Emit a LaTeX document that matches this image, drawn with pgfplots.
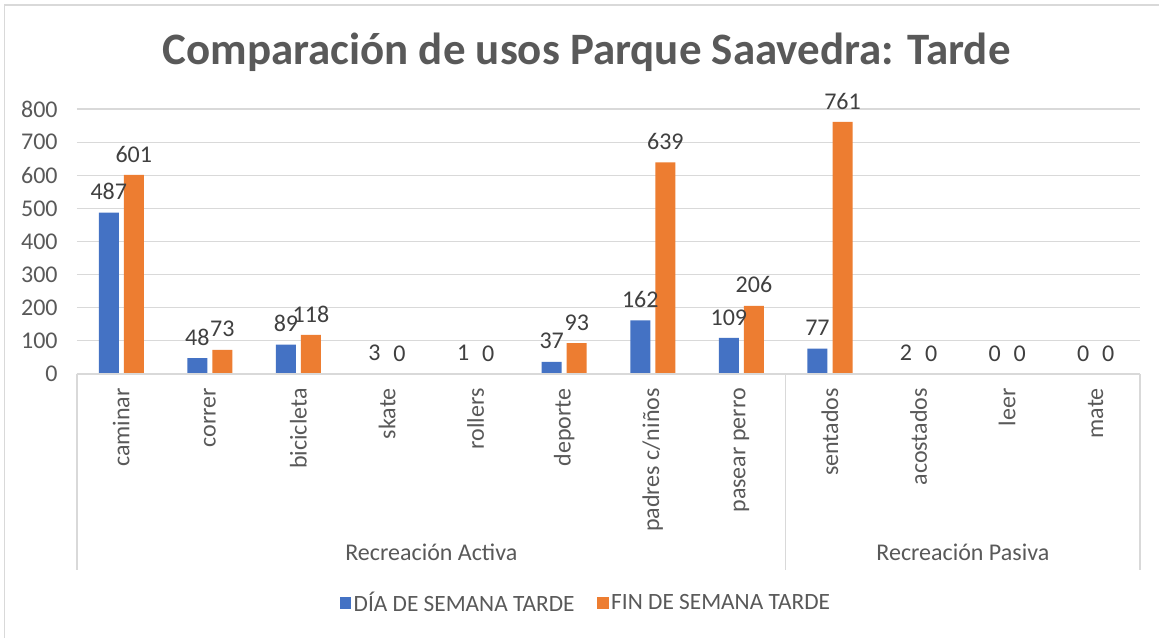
\documentclass[border=0pt]{standalone}
\usepackage{fontspec}
\setmainfont{Carlito}
\usepackage{pgfplots}
\pgfplotsset{compat=1.18}
\definecolor{txtgray}{HTML}{595959}
\definecolor{lblgray}{HTML}{404040}
\definecolor{gridgray}{HTML}{D9D9D9}
\definecolor{xlblue}{HTML}{4472C4}
\definecolor{xlorange}{HTML}{ED7D31}
\begin{document}
\begin{tikzpicture}
\useasboundingbox (0,0) rectangle (869.25pt,-478.5pt);
\fill[white] (0,0) rectangle (869.25pt,-478.5pt);
\draw[gridgray, line width=1.2pt] (3.4pt,-478.5pt) -- (3.4pt,-3.75pt) -- (869.25pt,-3.75pt);
\begin{axis}[
  at={(57.75pt,-280.5pt)}, anchor=south west,
  scale only axis, width=797.25pt, height=198.75pt,
  xmin=-0.5, xmax=11.5, ymin=0, ymax=800,
  ytick={0,100,...,800},
  xtick={0,...,11},
  xticklabels={caminar,correr,bicicleta,skate,rollers,deporte,padres c/niños,pasear perro,sentados,acostados,leer,mate},
  axis line style={draw=none},
  axis x line*=bottom, axis y line*=left,
  major tick length=0pt,
  ymajorgrids, grid style={gridgray, line width=0.8pt},
  /pgf/number format/assume math mode=true,
  tick label style={font=\fontsize{18}{21}\selectfont, text=txtgray},
  yticklabel style={xshift=-11pt},
  xticklabel style={rotate=90, anchor=east, inner xsep=10.5pt},
  clip=false,
  legend style={at={(0.479,-0.864)}, anchor=center, legend columns=2, draw=none, fill=none,
    font=\fontsize{17.5}{20}\selectfont, text=txtgray,
    /tikz/every even column/.append style={column sep=15pt}},
  legend image code/.code={\fill[#1] (0pt,-4.2pt) rectangle (8.5pt,4.3pt);},
  nodes near coords,
  every node near coord/.append style={font=\fontsize{18}{21}\selectfont, text=lblgray, yshift=6pt},
]
\addplot[ybar, bar width=15pt, bar shift=-9.4pt, fill=xlblue, draw=none,
  every node near coord/.append style={xshift=-9.4pt}] coordinates {
(0,487) (1,48) (2,89) (3,3) (4,1) (5,37) (6,162) (7,109) (8,77) (9,2) (10,0) (11,0)};
\addlegendentry{DÍA DE SEMANA TARDE}
\addplot[ybar, bar width=15pt, bar shift=9.4pt, fill=xlorange, draw=none,
  every node near coord/.append style={xshift=9.4pt}] coordinates {
(0,601) (1,73) (2,118) (3,0) (4,0) (5,93) (6,639) (7,206) (8,761) (9,0) (10,0) (11,0)};
\addlegendentry{FIN DE SEMANA TARDE}
\draw[gridgray, line width=1.1pt] (axis cs:-0.5,0) -- (axis cs:11.5,0);
\draw[gridgray, line width=1.1pt] (axis cs:-0.5,0) -- ++(0pt,-147pt);
\draw[gridgray, line width=1.1pt] (axis cs:7.5,0) -- ++(0pt,-147pt);
\draw[gridgray, line width=1.1pt] (axis cs:11.5,0) -- ++(0pt,-147pt);
\node[font=\fontsize{18}{21}\selectfont, text=txtgray] at ([yshift=-134pt]axis cs:3.5,0) {Recreación Activa};
\node[font=\fontsize{18}{21}\selectfont, text=txtgray] at ([yshift=-134pt]axis cs:9.5,0) {Recreación Pasiva};
\end{axis}
\node[font=\fontsize{33.7}{40}\bfseries, text=txtgray] at (440pt,-39.5pt) {Comparación de usos Parque Saavedra: Tarde};
\end{tikzpicture}
\end{document}
